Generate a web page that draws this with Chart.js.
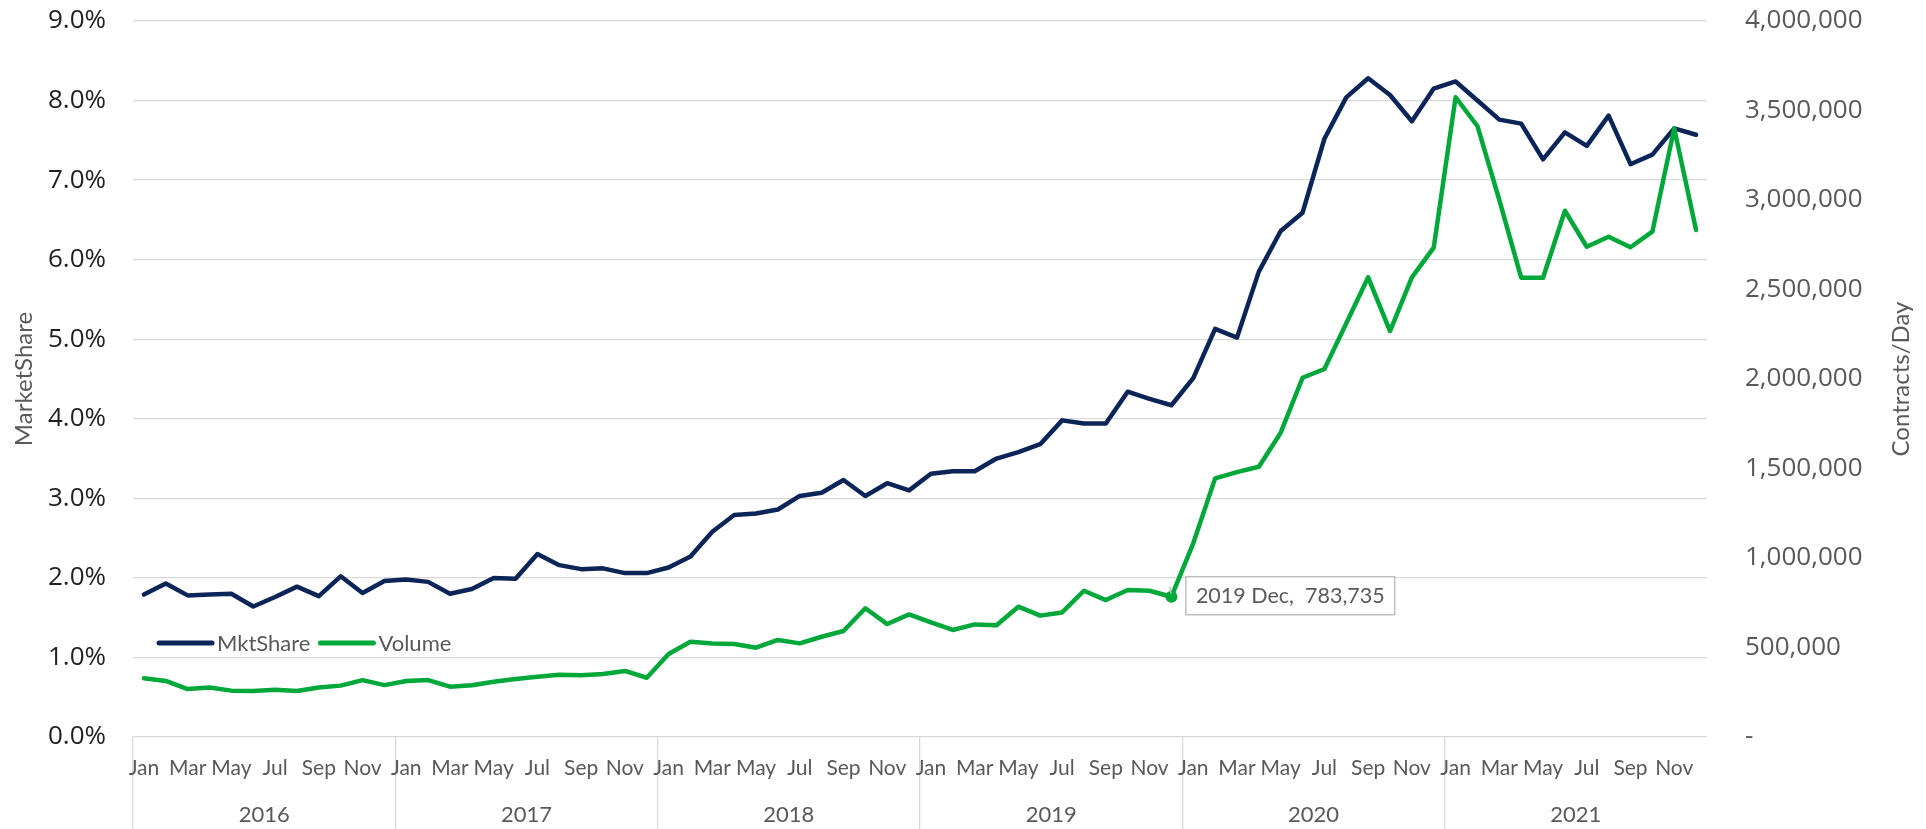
<!DOCTYPE html>
<html>
<head>
<meta charset="utf-8">
<script src="https://cdn.jsdelivr.net/npm/chart.js@4.4.1/dist/chart.umd.min.js"></script>
<style>
  html, body { margin: 0; padding: 0; background: #ffffff; overflow: hidden; }
  #wrap { position: relative; width: 1926px; height: 829px; }
</style>
</head>
<body>
<div id="wrap"><canvas id="c"></canvas></div>
<script>
// ---------------- data ----------------
const years = ['2016', '2017', '2018', '2019', '2020', '2021'];
const monthNames = ['Jan', 'Feb', 'Mar', 'Apr', 'May', 'Jun', 'Jul', 'Aug', 'Sep', 'Oct', 'Nov', 'Dec'];
const seriesNames = ['MktShare', 'Volume'];
const axisTitles = ['MarketShare', 'Contracts/Day'];

// market share, percent
const mktShare = [
  1.79, 1.93, 1.78, 1.79, 1.80, 1.64, 1.76, 1.89, 1.77, 2.02, 1.81, 1.96,
  1.98, 1.95, 1.80, 1.86, 2.00, 1.99, 2.30, 2.16, 2.11, 2.12, 2.06, 2.06,
  2.13, 2.27, 2.58, 2.79, 2.81, 2.86, 3.03, 3.07, 3.23, 3.03, 3.19, 3.10,
  3.31, 3.34, 3.34, 3.50, 3.58, 3.68, 3.98, 3.94, 3.94, 4.34, 4.25, 4.17,
  4.51, 5.13, 5.02, 5.85, 6.36, 6.59, 7.52, 8.04, 8.28, 8.07, 7.74, 8.15,
  8.24, 8.00, 7.76, 7.71, 7.26, 7.60, 7.43, 7.81, 7.20, 7.32, 7.65, 7.57
];

// contracts per day
const volume = [
  328000, 313000, 268000, 276000, 259000, 257000, 264000, 257000, 277000, 287000, 318000, 290000,
  313000, 318000, 281000, 289000, 309000, 324000, 337000, 348000, 345000, 352000, 369000, 331000,
  464000, 532000, 523000, 520000, 499000, 542000, 523000, 560000, 592000, 719000, 631000, 685000,
  641000, 598000, 629000, 624000, 728000, 678000, 696000, 817000, 765000, 821000, 817000, 783735,
  1082000, 1445000, 1480000, 1510000, 1700000, 2007000, 2056000, 2311000, 2568000, 2268000, 2568000, 2734000,
  3574000, 3413000, 3000000, 2566000, 2566000, 2940000, 2739000, 2795000, 2736000, 2823000, 3400000, 2832000
];

const annotYear = '2019';
const annotMonth = 'Dec';

// ---------------- derived ----------------
const categories = [];
years.forEach(y => monthNames.forEach(m => categories.push(y + ' ' + m)));
const annotIndex = categories.indexOf(annotYear + ' ' + annotMonth);
const yearCenters = years.map((y, i) => i * 12 + 5.5);

const fmtNum = v => (v === 0 ? '-' : Number(v).toLocaleString('en-US'));

const NAVY = '#0b2559';
const GREEN = '#00a83a';
const GRID = '#d9d9d9';
const TXT = '#595959';
const TICKFONT = 'Open Sans';
const LABFONT = 'Lato';

const overlay = {
  id: 'overlay',
  afterDraw(chart) {
    const ctx = chart.ctx;
    const area = chart.chartArea;
    const r = chart.scales.y1;

    // right axis title (reads bottom-to-top)
    ctx.save();
    ctx.font = '24px ' + LABFONT;
    ctx.fillStyle = TXT;
    ctx.textAlign = 'center';
    ctx.textBaseline = 'middle';
    ctx.translate(r.right - 25, (area.top + area.bottom) / 2);
    ctx.rotate(-Math.PI / 2);
    ctx.fillText(axisTitles[1], 0, 0);
    ctx.restore();

    // legend inside plot area
    ctx.save();
    ctx.font = '22px ' + LABFONT;
    ctx.textBaseline = 'middle';
    ctx.textAlign = 'left';
    let lx = area.left + 26;
    const ly = area.bottom - 94;
    chart.data.datasets.forEach(ds => {
      ctx.strokeStyle = ds.borderColor;
      ctx.lineWidth = 5;
      ctx.lineCap = 'round';
      ctx.beginPath();
      ctx.moveTo(lx, ly);
      ctx.lineTo(lx + 53, ly);
      ctx.stroke();
      lx += 58;
      ctx.fillStyle = TXT;
      ctx.fillText(ds.label, lx, ly + 1);
      lx += ctx.measureText(ds.label).width + 10;
    });
    ctx.restore();

    // data label for the annotated point
    const meta = chart.getDatasetMeta(1);
    const p = meta.data[annotIndex];
    if (p) {
      const text = annotYear + ' ' + annotMonth + ',  ' + fmtNum(volume[annotIndex]);
      ctx.save();
      ctx.font = '21.5px ' + LABFONT;
      const tw = ctx.measureText(text).width;
      const bx = p.x + 14.5, by = p.y - 20, bw = tw + 20, bh = 38;
      ctx.strokeStyle = '#bfbfbf';
      ctx.lineWidth = 1.5;
      ctx.beginPath();
      ctx.moveTo(p.x - 1.5, p.y - 10);
      ctx.lineTo(p.x - 0.5, p.y - 3);
      ctx.stroke();
      ctx.fillStyle = '#ffffff';
      ctx.fillRect(bx, by, bw, bh);
      ctx.strokeStyle = '#bfbfbf';
      ctx.strokeRect(bx, by, bw, bh);
      ctx.fillStyle = TXT;
      ctx.textBaseline = 'middle';
      ctx.textAlign = 'left';
      ctx.fillText(text, bx + 10, p.y - 1);
      ctx.restore();
    }
  }
};

new Chart(document.getElementById('c'), {
  type: 'line',
  data: {
    labels: categories,
    datasets: [
      {
        label: seriesNames[0],
        data: mktShare,
        yAxisID: 'y',
        borderColor: NAVY,
        backgroundColor: NAVY,
        borderWidth: 4.5,
        pointRadius: 0,
        tension: 0,
        borderJoinStyle: 'round',
        borderCapStyle: 'round',
        order: 1
      },
      {
        label: seriesNames[1],
        data: volume,
        yAxisID: 'y1',
        borderColor: GREEN,
        backgroundColor: GREEN,
        borderWidth: 4.5,
        pointRadius: ctx => (ctx.dataIndex === annotIndex ? 6 : 0),
        pointBorderWidth: 0,
        pointBackgroundColor: GREEN,
        tension: 0,
        borderJoinStyle: 'round',
        borderCapStyle: 'round',
        order: 0
      }
    ]
  },
  options: {
    responsive: true,
    maintainAspectRatio: false,
    animation: false,
    devicePixelRatio: 1,
    events: [],
    layout: { padding: { top: 21, left: 0, right: 0, bottom: 0 } },
    plugins: { legend: { display: false }, tooltip: { enabled: false }, title: { display: false } },
    scales: {
      x: {
        type: 'category',
        position: 'bottom',
        weight: 0,
        offset: true,
        grid: {
          offset: true,
          drawOnChartArea: false,
          drawTicks: true,
          tickLength: 92,
          lineWidth: 1.3,
          color: c => (c.index % 12 === 0 ? GRID : 'rgba(0,0,0,0)'),
          tickColor: c => (c.index % 12 === 0 ? GRID : 'rgba(0,0,0,0)')
        },
        border: { display: false },
        ticks: {
          autoSkip: false,
          maxRotation: 0,
          minRotation: 0,
          padding: -73,
          color: TXT,
          font: { family: LABFONT, size: 21 },
          callback: (v, i) => (i % 2 === 0 ? monthNames[i % 12] : '')
        },
        afterFit: s => { s.height = 46; s.paddingLeft = 0; s.paddingRight = 0; }
      },
      x2: {
        type: 'linear',
        position: 'bottom',
        weight: 1,
        min: -0.5,
        max: 71.5,
        grid: { display: false, drawTicks: false },
        border: { display: false },
        afterBuildTicks: s => { s.ticks = yearCenters.map(v => ({ value: v })); },
        ticks: {
          autoSkip: false,
          maxRotation: 0,
          padding: 19,
          color: TXT,
          font: { family: LABFONT, size: 22 },
          callback: (v, i) => years[i]
        },
        afterFit: s => { s.height = 46; s.paddingLeft = 0; s.paddingRight = 0; }
      },
      y: {
        type: 'linear',
        position: 'left',
        min: 0,
        max: 9,
        grid: { color: GRID, lineWidth: 1.3, drawTicks: false },
        border: { display: false },
        ticks: {
          stepSize: 1,
          padding: 27,
          color: '#1f1f1f',
          font: { family: TICKFONT, size: 26 },
          callback: v => Number(v).toFixed(1) + '%'
        },
        title: {
          display: true,
          text: axisTitles[0],
          color: TXT,
          font: { family: LABFONT, size: 24 },
          padding: { top: 10, bottom: 0 }
        },
        afterFit: s => { s.width = 133; s.paddingTop = 0; s.paddingBottom = 0; }
      },
      y1: {
        type: 'linear',
        position: 'right',
        min: 0,
        max: 4000000,
        grid: { drawOnChartArea: false, drawTicks: false },
        border: { display: false },
        ticks: {
          stepSize: 500000,
          padding: 38,
          color: TXT,
          font: { family: TICKFONT, size: 26 },
          callback: v => fmtNum(v)
        },
        afterFit: s => { s.width = 219; s.paddingTop = 0; s.paddingBottom = 0; }
      }
    }
  },
  plugins: [overlay]
});
</script>
</body>
</html>
